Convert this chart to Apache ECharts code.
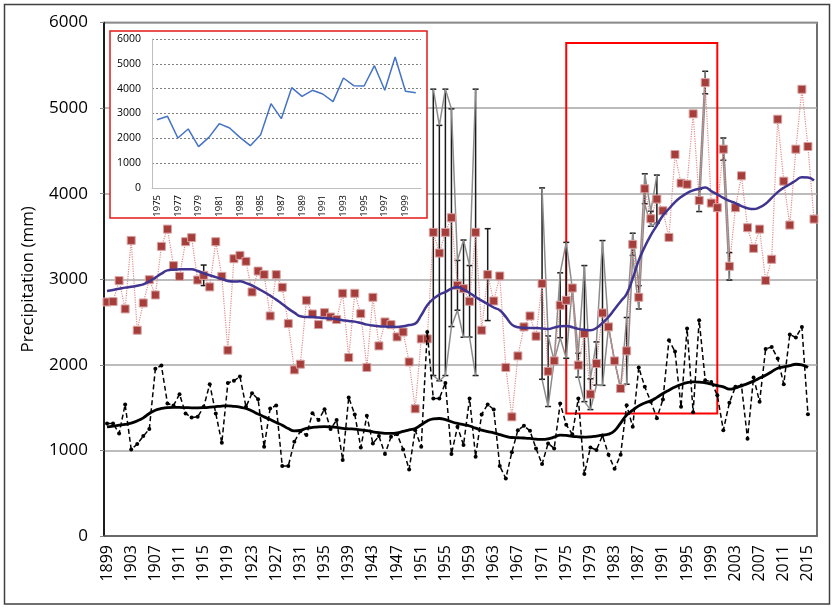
<!DOCTYPE html>
<html>
<head>
<meta charset="utf-8">
<script src="https://cdn.jsdelivr.net/npm/echarts@6/dist/echarts.min.js"></script>
<style>
  html, body { margin: 0; padding: 0; background: #fff; }
  #chart { width: 835px; height: 609px; }
</style>
</head>
<body>
<div id="chart"></div>
<script>
// years 1899..2016
var years = [];
for (var y = 1899; y <= 2016; y++) years.push(String(y));

// annual precipitation (red squares), 1899-2016
var redPrecip = [
  2734, 2739, 2984, 2653, 3454, 2404, 2723, 2995, 2816, 3384,
  3586, 3159, 3034, 3439, 3486, 2991, 3046, 2910, 3439, 3034,
  2171, 3240, 3279, 3209, 2851, 3096, 3054, 2571, 3054, 2906,
  2482, 1941, 2007, 2754, 2594, 2470, 2610, 2559, 2529, 2836,
  2085, 2836, 2598, 1969, 2789, 2221, 2501, 2470, 2326, 2384,
  2034, 1486, 2303, 2303, 3548, 3306, 3548, 3719, 2929, 2890,
  2742, 3548, 2404, 3054, 2746, 3038, 1969, 1392, 2104, 2443,
  2571, 2334, 2949, 1925, 2046, 2696, 2754, 2898, 1996, 2365,
  1657, 2015, 2606, 2443, 2046, 1723, 2163, 3408, 2789, 4057,
  3707, 3937, 3800, 3489, 4458, 4123, 4110, 4933, 3921, 5298,
  3890, 3836, 4520, 3151, 3836, 4209, 3602, 3361, 3586, 2984,
  3233, 4870, 4146, 3633, 4520, 5220, 4551, 3703
];

// smoothed curve of red series
var redSmooth = [
  2863, 2875, 2888, 2902, 2912, 2925, 2940, 2975, 3019, 3065,
  3104, 3112, 3116, 3118, 3116, 3096, 3070, 3046, 3025, 3003,
  2980, 2974, 2976, 2955, 2929, 2890, 2851, 2808, 2762, 2710,
  2657, 2610, 2567, 2560, 2559, 2552, 2546, 2540, 2532, 2522,
  2512, 2505, 2489, 2470, 2460, 2452, 2448, 2445, 2443, 2450,
  2465, 2482, 2580, 2696, 2770, 2820, 2851, 2890, 2910, 2880,
  2840, 2793, 2750, 2710, 2670, 2637, 2560, 2470, 2440, 2433,
  2431, 2430, 2425, 2419, 2435, 2450, 2455, 2440, 2420, 2410,
  2404, 2430, 2490, 2559, 2650, 2740, 2830, 3010, 3220, 3380,
  3515, 3630, 3746, 3824, 3901, 3960, 4007, 4038, 4057, 4073,
  4030, 3991, 3950, 3915, 3890, 3855, 3830, 3820, 3840, 3882,
  3950, 4018, 4070, 4110, 4154, 4193, 4190, 4154
];

// black dashed series, 1899-2015
var blackPrecip = [
  1315, 1315, 1198, 1537, 1012, 1074, 1167, 1249, 1953, 1992,
  1549, 1525, 1657, 1432, 1385, 1393, 1509, 1774, 1432, 1089,
  1789, 1813, 1863, 1509, 1669, 1599, 1042, 1490, 1525, 817,
  817, 1101, 1225, 1179, 1435, 1354, 1482, 1249, 1354, 887,
  1618, 1420, 1035, 1404, 1082, 1167, 957, 1159, 1190, 1012,
  778, 1237, 1042, 2384, 1607, 1607, 1789, 957, 1276, 1062,
  1607, 926, 1420, 1537, 1478, 817, 673, 980, 1237, 1287,
  1229, 1023, 840, 1082, 1023, 1548, 1300, 1190, 1607, 724,
  1035, 1004, 1175, 949, 785, 949, 1529, 1276, 1969, 1743,
  1568, 1377, 1595, 2287, 2155, 1509, 2424, 1447, 2521, 1821,
  1800, 1645, 1237, 1556, 1743, 1758, 1136, 1852, 1568, 2186,
  2209, 2073, 1774, 2354, 2319, 2443, 1424
];

// smoothed curve of black series
var blackSmooth = [
  1276, 1285, 1295, 1305, 1320, 1345, 1380, 1432, 1470, 1490,
  1500, 1502, 1502, 1500, 1498, 1498, 1500, 1505, 1512, 1518,
  1521, 1515, 1505, 1490, 1460, 1425, 1392, 1360, 1325, 1295,
  1255, 1229, 1235, 1257, 1268, 1276, 1278, 1275, 1268, 1257,
  1252, 1249, 1240, 1230, 1218, 1208, 1200, 1198, 1205, 1222,
  1240, 1257, 1300, 1345, 1368, 1373, 1360, 1335, 1315, 1300,
  1285, 1260, 1237, 1220, 1205, 1185, 1165, 1151, 1148, 1145,
  1140, 1132, 1128, 1135, 1155, 1179, 1175, 1165, 1159, 1155,
  1159, 1168, 1178, 1190, 1230, 1320, 1412, 1470, 1520, 1555,
  1579, 1620, 1665, 1704, 1740, 1770, 1793, 1800, 1798, 1790,
  1775, 1758, 1743, 1715, 1730, 1755, 1780, 1810, 1845, 1879,
  1920, 1960, 1975, 1990, 2007, 2000, 1969
];

// error bars on the red series (+/- mm)
var errYears = [1915, 1953, 1954, 1955, 1956, 1957, 1958, 1959, 1960, 1962,
  1971, 1972, 1973, 1974, 1975, 1976, 1977, 1978, 1979, 1980, 1981, 1982,
  1983, 1984, 1985, 1986, 1987, 1988, 1989, 1990, 1997, 1998, 2001, 2002];
var errValues = [120, 1673, 1492, 1673, 1272, 291, 568, 418, 1673, 537,
  1118, 412, 0, 379, 677, 0, 140, 795, 180, 253, 846, 0,
  0, 0, 390, 130, 136, 175, 88, 280, 130, 132, 130, 160];

// inset: 1975-2000
var insetYears = [];
for (var k = 1975; k <= 2000; k++) insetYears.push(String(k));
var insetValues = [2750, 2886, 2013, 2376, 1664, 2040, 2590, 2416, 2040, 1705,
  2148, 3396, 2792, 4040, 3691, 3933, 3785, 3477, 4430, 4121,
  4107, 4926, 3933, 5275, 3893, 3839];

var FONT = 'Open Sans';
var plain = function (v) { return String(v); };

// build upper / lower gray lines and bar data
var upper = years.map(function () { return null; });
var lower = years.map(function () { return null; });
var barData = [];
errYears.forEach(function (yr, i) {
  var idx = yr - 1899;
  var v = redPrecip[idx];
  var e = errValues[i];
  upper[idx] = v + e;
  lower[idx] = v - e;
  if (e > 0) barData.push([idx, v, e]);
});

var chart = echarts.init(document.getElementById('chart'));

var option = {
  animation: false,
  backgroundColor: '#fff',
  textStyle: { fontFamily: FONT },
  graphic: [
    { type: 'rect', z: 0, shape: { x: 4.5, y: 4.5, width: 825, height: 599.5 },
      style: { fill: 'none', stroke: '#404040', lineWidth: 1.5 } },
    { type: 'rect', z: 3, shape: { x: 110, y: 31, width: 317, height: 187 },
      style: { fill: '#fff', stroke: '#e31a1a', lineWidth: 1.5 } }
  ],
  grid: [
    { left: 104, right: 18, top: 22.5, bottom: 73, show: true,
      borderColor: '#404040', borderWidth: 1.5, backgroundColor: 'transparent' },
    { left: 152, top: 39, width: 269, height: 149 }
  ],
  xAxis: [
    {
      type: 'category', gridIndex: 0, data: years, boundaryGap: true,
      axisLine: { lineStyle: { color: '#595959', width: 1.5 } },
      axisTick: { interval: 1, length: 5, lineStyle: { color: '#595959' } },
      axisLabel: { interval: 3, rotate: 90, margin: 9, fontSize: 16, color: '#000', fontFamily: FONT },
      splitLine: { show: false }
    },
    {
      type: 'category', gridIndex: 1, data: insetYears, boundaryGap: true, z: 4,
      axisLine: { lineStyle: { color: '#bfbfbf', width: 1 } },
      axisTick: { interval: 0, length: 4, lineStyle: { color: '#bfbfbf' } },
      axisLabel: { interval: 1, rotate: 90, margin: 7, fontSize: 9.5, color: '#000', fontFamily: FONT },
      splitLine: { show: false }
    }
  ],
  yAxis: [
    {
      type: 'value', gridIndex: 0, min: 0, max: 6000, interval: 1000,
      name: 'Precipitation (mm)', nameLocation: 'middle', nameGap: 67,
      nameTextStyle: { fontSize: 17, color: '#000', fontFamily: FONT },
      axisLine: { show: true, lineStyle: { color: '#000', width: 1.5 } },
      axisTick: { show: true, length: 4, lineStyle: { color: '#888' } },
      axisLabel: { fontSize: 17, color: '#000', margin: 16, fontFamily: FONT, formatter: plain },
      splitLine: { lineStyle: { color: '#a6a6a6', width: 1.5 } }
    },
    {
      type: 'value', gridIndex: 1, min: 0, max: 6000, interval: 1000, z: 4,
      axisLine: { show: true, lineStyle: { color: '#bfbfbf', width: 1 } },
      axisTick: { show: false },
      axisLabel: { fontSize: 10.5, color: '#000', margin: 11, fontFamily: FONT, formatter: plain },
      splitLine: { lineStyle: { color: '#7f7f7f', width: 1, type: [2, 2] } }
    }
  ],
  series: [
    {
      name: 'upper', type: 'line', xAxisIndex: 0, yAxisIndex: 0, data: upper,
      showSymbol: false, symbol: 'none', connectNulls: false, z: 2,
      lineStyle: { color: '#8c8c8c', width: 1.5 }
    },
    {
      name: 'lower', type: 'line', xAxisIndex: 0, yAxisIndex: 0, data: lower,
      showSymbol: false, symbol: 'none', connectNulls: false, z: 2,
      lineStyle: { color: '#8c8c8c', width: 1.5 }
    },
    {
      name: 'error', type: 'custom', xAxisIndex: 0, yAxisIndex: 0, data: barData, z: 2,
      renderItem: function (params, api) {
        var idx = api.value(0), v = api.value(1), e = api.value(2);
        var top = api.coord([idx, v + e]);
        var bot = api.coord([idx, v - e]);
        var st = { stroke: '#1a1a1a', lineWidth: 1.5 };
        var hw = 3;
        return {
          type: 'group',
          children: [
            { type: 'line', shape: { x1: top[0], y1: top[1], x2: bot[0], y2: bot[1] }, style: st },
            { type: 'line', shape: { x1: top[0] - hw, y1: top[1], x2: top[0] + hw, y2: top[1] }, style: st },
            { type: 'line', shape: { x1: bot[0] - hw, y1: bot[1], x2: bot[0] + hw, y2: bot[1] }, style: st }
          ]
        };
      }
    },
    {
      name: 'red', type: 'line', xAxisIndex: 0, yAxisIndex: 0, data: redPrecip, z: 3,
      symbol: 'rect', symbolSize: 8, showAllSymbol: true,
      itemStyle: { color: '#a53e3b', borderColor: '#d9a3a3', borderWidth: 1 },
      lineStyle: { color: '#e38c8c', width: 1.2, type: 'dotted' },
      markArea: {
        silent: true,
        itemStyle: { color: 'rgba(0,0,0,0)', borderColor: '#ff0000', borderWidth: 2 },
        data: [[{ xAxis: '1975', yAxis: 1430 }, { xAxis: '2000', yAxis: 5760 }]]
      }
    },
    {
      name: 'redSmooth', type: 'line', xAxisIndex: 0, yAxisIndex: 0, data: redSmooth, z: 4,
      smooth: true, showSymbol: false, symbol: 'none',
      lineStyle: { color: '#3f3490', width: 2.5 }
    },
    {
      name: 'black', type: 'line', xAxisIndex: 0, yAxisIndex: 0, data: blackPrecip, z: 4,
      symbol: 'circle', symbolSize: 4, showAllSymbol: true,
      itemStyle: { color: '#000' },
      lineStyle: { color: '#000', width: 1.5, type: [5, 3] }
    },
    {
      name: 'blackSmooth', type: 'line', xAxisIndex: 0, yAxisIndex: 0, data: blackSmooth, z: 4,
      smooth: true, showSymbol: false, symbol: 'none',
      lineStyle: { color: '#000', width: 2.8 }
    },
    {
      name: 'inset', type: 'line', xAxisIndex: 1, yAxisIndex: 1, data: insetValues, z: 5,
      showSymbol: false, symbol: 'none',
      lineStyle: { color: '#4472c4', width: 1.5 }
    }
  ]
};

chart.setOption(option);
</script>
</body>
</html>
